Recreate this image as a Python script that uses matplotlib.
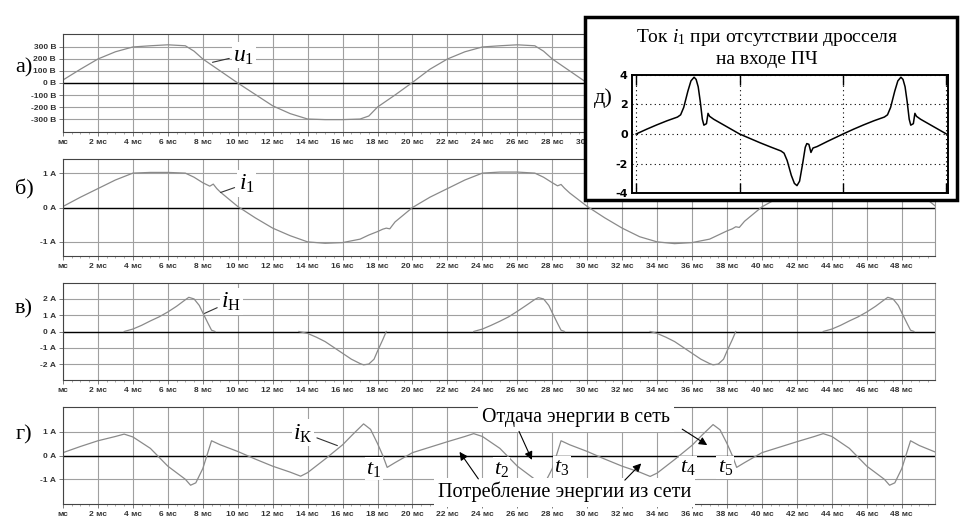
import numpy as np
import matplotlib.pyplot as plt
from matplotlib.patches import Rectangle
from matplotlib.ticker import MultipleLocator

plt.rcParams['mathtext.fontset'] = 'custom'
plt.rcParams['mathtext.rm'] = 'Liberation Serif'
plt.rcParams['mathtext.it'] = 'Liberation Serif:italic'

# ---- data (time in ms) ----
u1_t = [0, 1, 2, 3, 4, 5, 6, 7, 7.5, 8, 9, 10, 11, 12, 13, 14, 15, 16, 17, 17.5,
        18, 19, 20, 21, 22, 23, 24, 25, 26, 27, 27.5, 28, 29, 30, 31, 32, 33, 34, 35, 36,
        37, 37.5, 38, 39, 40, 41, 42, 43, 44, 45, 46, 47, 47.5, 48, 49, 49.9]
u1_v = [25, 115, 200, 260, 300, 310, 318, 310, 265, 200, 100, 0, -95, -190, -255, -300, -305, -305, -300, -275,
        -200, -100, 5, 115, 200, 260, 300, 310, 318, 310, 265, 200, 100, 0, -95, -190, -255, -300, -305, -305,
        -300, -275, -200, -100, 5, 115, 200, 260, 300, 310, 318, 310, 265, 200, 100, 10]

i1_t = [0, 1, 2, 3, 4, 5, 6, 7, 7.5, 8, 8.4, 8.6, 8.8, 9, 10, 11, 12, 13, 14, 15,
        16, 17, 17.5, 18, 18.3, 18.5, 18.7, 19, 20, 21, 22, 23, 24, 25, 26, 27, 27.5, 28, 28.3, 28.5,
        28.7, 29, 30, 31, 32, 33, 34, 35, 36, 37, 37.5, 38, 38.3, 38.5, 38.7, 39, 40, 41, 42, 43,
        44, 45, 46, 47, 48, 49, 49.9]
i1_v = [0.03, 0.3, 0.55, 0.8, 1.0, 1.02, 1.02, 1.0, 0.88, 0.72, 0.62, 0.68, 0.55, 0.45, 0.03, -0.3, -0.6, -0.82, -1.0, -1.04,
        -1.02, -0.92, -0.8, -0.7, -0.63, -0.6, -0.62, -0.42, 0.0, 0.3, 0.55, 0.8, 1.0, 1.03, 1.03, 1.0, 0.88, 0.72, 0.63, 0.67,
        0.56, 0.42, 0.03, -0.3, -0.6, -0.85, -1.0, -1.05, -1.02, -0.92, -0.8, -0.68, -0.62, -0.56, -0.58, -0.4, 0.02, 0.3, 0.55, 0.8,
        1.0, 1.02, 1.02, 1.0, 0.72, 0.42, 0.05]

nan = np.nan
iH_t = [3.5, 4, 4.5, 5, 5.5, 6, 6.5, 7, 7.2, 7.5, 7.8, 8.0, 8.3, 8.5, 8.7, nan,
        13.5, 14, 14.5, 15, 15.5, 16, 16.5, 17, 17.2, 17.5, 17.8, 18, 18.3, 18.5, nan,
        23.5, 24, 24.5, 25, 25.5, 26, 26.5, 27, 27.2, 27.5, 27.8, 28.0, 28.3, 28.5, 28.7, nan,
        33.6, 34, 34.5, 35, 35.5, 36, 36.5, 37, 37.2, 37.5, 37.8, 38, 38.3, 38.5, nan,
        43.5, 44, 44.5, 45, 45.5, 46, 46.5, 47, 47.2, 47.5, 47.8, 48.0, 48.3, 48.5, 48.7]
iH_v = [0, 0.15, 0.38, 0.65, 0.9, 1.2, 1.55, 1.95, 2.1, 2.0, 1.6, 1.15, 0.5, 0.08, 0, nan,
        0, -0.12, -0.35, -0.62, -0.98, -1.34, -1.7, -1.97, -2.05, -2.0, -1.7, -1.2, -0.5, 0, nan,
        0, 0.15, 0.38, 0.63, 0.9, 1.24, 1.6, 1.97, 2.08, 2.0, 1.6, 1.15, 0.5, 0.08, 0, nan,
        0, -0.12, -0.35, -0.62, -0.98, -1.34, -1.7, -1.97, -2.05, -2.0, -1.7, -1.2, -0.5, 0, nan,
        0, 0.15, 0.38, 0.65, 0.9, 1.2, 1.55, 1.95, 2.1, 2.0, 1.6, 1.15, 0.5, 0.08, 0]

iK_t = [0, 1, 2, 3, 3.5, 4, 5, 6, 7, 7.3, 7.6, 8.0, 8.5, 9, 10, 11, 12, 13, 13.6, 14,
        15, 16, 16.6, 17.2, 17.6, 18.0, 18.3, 18.55, 19, 20, 21, 22, 23, 23.5, 24, 25, 26, 27, 27.3, 27.6,
        28.0, 28.5, 29, 30, 31, 32, 33, 33.6, 34, 35, 36, 36.6, 37.2, 37.6, 38.0, 38.3, 38.55, 39, 40, 41,
        42, 43, 43.5, 44, 45, 46, 47, 47.3, 47.6, 48.0, 48.5, 49, 49.9]
iK_v = [0.12, 0.38, 0.62, 0.8, 0.9, 0.78, 0.3, -0.45, -1.0, -1.25, -1.15, -0.55, 0.62, 0.45, 0.17, -0.15, -0.45, -0.7, -0.87, -0.72,
        -0.15, 0.45, 0.9, 1.33, 1.1, 0.5, 0.0, -0.5, -0.3, 0.12, 0.35, 0.58, 0.8, 0.92, 0.8, 0.3, -0.45, -1.0, -1.22, -1.12,
        -0.55, 0.62, 0.45, 0.17, -0.15, -0.45, -0.7, -0.88, -0.74, -0.17, 0.43, 0.88, 1.3, 1.08, 0.5, 0.0, -0.5, -0.3, 0.12, 0.35,
        0.58, 0.8, 0.92, 0.8, 0.3, -0.45, -1.0, -1.25, -1.15, -0.55, 0.62, 0.42, 0.15]

# inset: current i1 without choke (ms, A)
ins_t = [0, 1, 2, 3, 4, 4.3, 4.6, 5.0, 5.3, 5.6, 5.8, 6.0, 6.2, 6.4, 6.55, 6.8, 6.95, 7.1, 7.5, 8.5,
         10, 11, 12, 13, 14, 14.3, 14.6, 15.0, 15.3, 15.55, 15.8, 16.1, 16.35, 16.5, 16.7, 16.9, 17.1, 17.5, 18.5,
         20, 21, 22, 23, 24, 24.3, 24.6, 25.0, 25.3, 25.6, 25.8, 26.0, 26.2, 26.4, 26.55, 26.8, 26.95, 27.1, 27.5, 28.5, 30]
ins_v = [0, 0.32, 0.62, 0.9, 1.15, 1.3, 1.8, 2.9, 3.6, 3.85, 3.7, 3.2, 2.2, 1.0, 0.6, 0.7, 1.4, 1.2, 1.0, 0.6,
         0, -0.3, -0.6, -0.88, -1.15, -1.3, -1.8, -2.8, -3.35, -3.5, -3.2, -2.0, -0.9, -0.65, -0.7, -1.25, -0.95, -0.85, -0.5,
         0, 0.32, 0.62, 0.9, 1.15, 1.3, 1.8, 2.9, 3.6, 3.85, 3.7, 3.2, 2.2, 1.0, 0.6, 0.7, 1.4, 1.2, 1.0, 0.6, 0]

xticks = list(range(0, 50, 2))
xtick_labels = ["мс"] + [f"{t} мс" for t in xticks[1:]]

W, H = 961, 526
fig = plt.figure(figsize=(W / 100, H / 100), dpi=100)


def px_axes(l, t, r, b):
    return fig.add_axes([l / W, 1 - b / H, (r - l) / W, (b - t) / H])


def style(ax, ticks, unit, lim):
    ax.set_xlim(0, 49.9)
    ax.set_ylim(-lim, lim)
    ax.set_xticks(xticks)
    ax.set_xticklabels(xtick_labels)
    ax.set_yticks(ticks)
    ax.set_yticklabels([f"{v} {unit}" for v in ticks])
    ax.xaxis.set_minor_locator(MultipleLocator(0.5))
    ax.grid(True, which='major', color='#a0a0a0', lw=0.8)
    ax.axhline(0, color='black', lw=1.0, zorder=1.9)
    ax.tick_params(which='major', length=3, width=0.6, color='#666',
                   labelsize=6, labelcolor='#333', pad=2)
    ax.tick_params(which='minor', length=1.5, width=0.5, color='#888')
    for lab in ax.get_xticklabels() + ax.get_yticklabels():
        lab.set_fontweight('bold')
        lab.set_family('Liberation Sans')
    for s in ['top', 'left', 'bottom']:
        ax.spines[s].set_color('#444')
    ax.spines['right'].set_color('#999')


serif = 'Liberation Serif'
white = dict(facecolor='white', edgecolor='none', pad=1)

ax_a = px_axes(63, 34, 935, 132)
ax_b = px_axes(63, 159, 935, 256)
ax_c = px_axes(63, 283, 935, 380)
ax_d = px_axes(63, 407, 935, 504)

style(ax_a, [-300, -200, -100, 0, 100, 200, 300], "В", 408)
style(ax_b, [-1, 0, 1], "А", 1.41)
style(ax_c, [-2, -1, 0, 1, 2], "А", 2.98)
style(ax_d, [-1, 0, 1], "А", 2.04)

curve = dict(color='#8a8a8a', lw=0.9, zorder=2)
ax_a.plot(u1_t, u1_v, **curve)
ax_b.plot(i1_t, i1_v, **curve)
ax_c.plot(iH_t, iH_v, **curve)
ax_d.plot(iK_t, iK_v, **curve)

# panel letters
for y, s in [(68, "а)"), (189, "б)"), (309, "в)"), (435, "г)")]:
    fig.text(24 / W, 1 - y / H, s, ha='center', va='center', fontsize=16, family=serif)

# curve labels with leader lines
lead = dict(arrowstyle='-', color='#333', lw=0.8)
ax_a.annotate("$u_1$", xy=(8.4, 167), xytext=(9.75, 233), ha='left', va='center',
              fontsize=17, arrowprops=lead, bbox=white, zorder=5)
ax_b.annotate("$i_1$", xy=(8.87, 0.41), xytext=(10.05, 0.7), ha='left', va='center',
              fontsize=17, arrowprops=lead, bbox=white, zorder=5)
ax_c.annotate("$i_\\mathrm{Н}$", xy=(7.95, 1.04), xytext=(9.05, 1.85), ha='left', va='center',
              fontsize=17, arrowprops=lead, bbox=white, zorder=5)
ax_d.annotate("$i_\\mathrm{К}$", xy=(15.85, 0.375), xytext=(14.3, 0.96), ha='right', va='center',
              fontsize=17, arrowprops=lead, bbox=white, zorder=5)

# energy flow annotations in panel г
ax_d.text(29.35, 1.58, "Отдача энергии в сеть", ha='center', va='center', fontsize=14.3,
          family=serif, bbox=dict(facecolor='white', edgecolor='none', pad=3), zorder=5)
ax_d.text(28.7, -1.54, "Потребление энергии из сети", ha='center', va='center', fontsize=14.6,
          family=serif, bbox=dict(facecolor='white', edgecolor='none', pad=3), zorder=5)
arr = dict(arrowstyle='-|>', color='black', lw=0.8, mutation_scale=12)
for tail, head in [((26.03, 1.12), (26.9, -0.29)), ((35.3, 1.17), (37.0, 0.375)),
                   ((23.86, -1.08), (22.6, 0.25)), ((32.04, -1.12), (33.2, -0.25))]:
    ax_d.annotate("", xy=head, xytext=tail, arrowprops=arr, zorder=6)

for (x, y), s in [((17.8, -0.55), "$t_1$"), ((25.1, -0.55), "$t_2$"), ((28.55, -0.5), "$t_3$"),
                  ((35.75, -0.5), "$t_4$"), ((37.9, -0.5), "$t_5$")]:
    ax_d.text(x, y, s, ha='center', va='center', fontsize=16, bbox=white, zorder=5)

# inset д
frame = Rectangle((585 / W, 1 - 200 / H), 372 / W, 183 / H, transform=fig.transFigure,
                  facecolor='white', edgecolor='black', lw=2.5, zorder=2)
fig.add_artist(frame)
ax_in = px_axes(632, 75, 948, 193)
ax_in.set_zorder(3)
ax_in.plot(ins_t, ins_v, color='black', lw=1.1)
ax_in.set_xlim(-0.4, 30.15)
ax_in.set_ylim(-4, 4)
ax_in.set_xticks([0, 10, 20, 30])
ax_in.set_xticklabels([])
ax_in.set_yticks([-4, -2, 0, 2, 4])
ax_in.set_yticklabels(["-4", "-2", "0", "2", "4"])
ax_in.grid(True, color='black', lw=0.8, ls=(0, (1, 3)))
ax_in.tick_params(axis='x', direction='in', length=7, width=1, top=True)
ax_in.tick_params(axis='y', length=0, labelsize=8, pad=3)
for lab in ax_in.get_yticklabels():
    lab.set_fontweight('bold')
for s in ax_in.spines.values():
    s.set_linewidth(1.4)

fig.text(767 / W, 1 - 37 / H, "Ток $i_1$ при отсутствии дросселя", ha='center', va='center',
         fontsize=14, family=serif, zorder=4)
fig.text(767 / W, 1 - 60 / H, "на входе ПЧ", ha='center', va='center',
         fontsize=14, family=serif, zorder=4)
fig.text(603 / W, 1 - 98 / H, "д)", ha='center', va='center', fontsize=16, family=serif, zorder=4)

fig.savefig("out.png", dpi=100)
